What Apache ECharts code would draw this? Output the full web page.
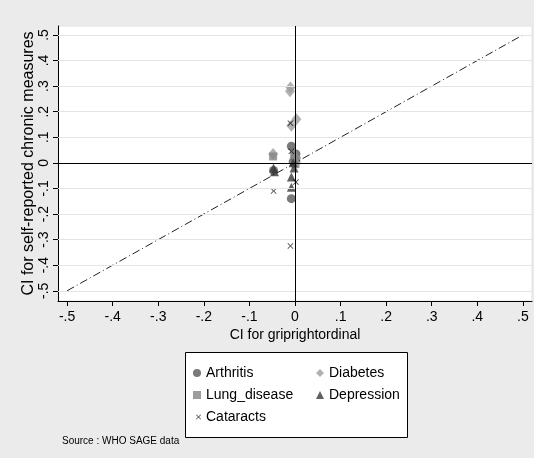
<!DOCTYPE html>
<html>
<head>
<meta charset="utf-8">
<script src="https://cdn.jsdelivr.net/npm/echarts@6/dist/echarts.min.js"></script>
<style>html,body{margin:0;padding:0;background:#ebebeb;}#c{width:534px;height:458px;}</style>
</head>
<body>
<div id="c"></div>
<script>
// ---- data ----
const tickValues = [-0.5, -0.4, -0.3, -0.2, -0.1, 0, 0.1, 0.2, 0.3, 0.4, 0.5];
const arthritis = [[-0.008, 0.065], [0.002, 0.035], [-0.047, -0.03], [-0.008, -0.14], [-0.004, 0.005], [0.0, 0.02]];
const diabetes = [[-0.01, 0.295], [-0.011, 0.28], [0.003, 0.17], [-0.008, 0.145], [-0.048, 0.035], [0.002, 0.02]];
const lungDisease = [[-0.048, 0.025], [0.003, 0.01], [-0.002, 0.03], [0.001, -0.005]];
const depression = [[-0.047, -0.02], [-0.045, -0.035], [-0.008, -0.055], [-0.008, -0.095], [-0.004, 0.0], [-0.002, -0.02]];
const cataracts = [[-0.01, 0.155], [-0.008, 0.045], [0.002, -0.075], [-0.047, -0.11], [-0.01, -0.325]];
const diagonal = [[-0.5, -0.5], [0.5, 0.5]];

const fmt = v => {
  const r = Math.round(v * 10) / 10;
  if (r === 0) return '0';
  return (r < 0 ? '-' : '') + Math.abs(r).toFixed(1).replace(/^0/, '');
};
const font = '"Liberation Sans", Arial, Helvetica, sans-serif';
const xPath = 'path://M0,1L1,0L5,4L9,0L10,1L6,5L10,9L9,10L5,6L1,10L0,9L4,5Z';

const chart = echarts.init(document.getElementById('c'), null, {renderer: 'canvas'});
const legendText = {fontSize: 14, color: '#000', lineHeight: 14, fontFamily: font};
chart.setOption({
  backgroundColor: '#ebebeb',
  animation: false,
  textStyle: {fontFamily: font},
  grid: {left: 58, right: 2, top: 26, bottom: 157, show: true, backgroundColor: '#ffffff', borderColor: '#e2e2e2', borderWidth: 1},
  xAxis: {
    type: 'value', min: -0.52, max: 0.52,
    name: 'CI for griprightordinal', nameLocation: 'middle', nameGap: 27, nameMoveOverlap: false,
    nameTextStyle: {fontSize: 14, color: '#000', fontFamily: font},
    axisLine: {show: true, onZero: false, lineStyle: {color: '#000', width: 1}},
    axisTick: {show: true, length: 5, lineStyle: {color: '#000'}, customValues: tickValues},
    axisLabel: {fontSize: 14, color: '#000', margin: 9, formatter: fmt, customValues: tickValues, fontFamily: font},
    splitLine: {show: false}
  },
  yAxis: {
    type: 'value', min: -0.54, max: 0.535,
    name: 'CI for self-reported chronic measures', nameLocation: 'middle', nameGap: 21, nameRotate: 90, nameMoveOverlap: false,
    nameTextStyle: {fontSize: 16, color: '#000', fontFamily: font},
    axisLine: {show: true, onZero: false, lineStyle: {color: '#000', width: 1}},
    axisTick: {show: true, length: 5, lineStyle: {color: '#000'}, customValues: tickValues},
    axisLabel: {fontSize: 14, color: '#000', margin: 7, rotate: 90, formatter: fmt, customValues: tickValues, fontFamily: font},
    splitLine: {show: false}
  },
  legend: [
    {data: ['Arthritis', 'Lung_disease'], orient: 'vertical', left: 188, top: 361, itemWidth: 8, itemHeight: 8, itemGap: 8,
     textStyle: legendText},
    {data: ['Cataracts'], orient: 'vertical', left: 191, top: 405, itemWidth: 5, itemHeight: 5, itemGap: 8,
     textStyle: legendText},
    {data: ['Diabetes', 'Depression'], orient: 'vertical', left: 311, top: 361, itemWidth: 8, itemHeight: 8, itemGap: 8,
     textStyle: legendText}
  ],
  graphic: [
    {type: 'rect', z: -1, shape: {x: 185.5, y: 352.5, width: 222, height: 85}, style: {fill: '#fff', stroke: '#000', lineWidth: 1}},
    {type: 'text', left: 62, top: 436, style: {text: 'Source : WHO SAGE data', fontSize: 10, fill: '#000', fontFamily: font}}
  ],
  series: [
    {type: 'line', name: 'grid', data: [], silent: true,
     markLine: {silent: true, symbol: 'none', label: {show: false},
       data: tickValues.map(v => ({yAxis: v, lineStyle: {color: '#e4e4e4', width: 1, type: 'solid'}}))}},
    {type: 'line', name: 'diag', data: diagonal, showSymbol: false, silent: true,
     lineStyle: {color: '#222', width: 1, type: [8, 3, 1, 3]}},
    {type: 'line', name: 'zero', data: [], silent: true,
     markLine: {silent: true, symbol: 'none', label: {show: false},
       data: [{xAxis: 0, lineStyle: {color: '#000', width: 1, type: 'solid'}}, {yAxis: 0, lineStyle: {color: '#000', width: 1, type: 'solid'}}]}},
    {type: 'scatter', name: 'Arthritis', data: arthritis, symbol: 'circle', symbolSize: 9, itemStyle: {color: '#595959'}},
    {type: 'scatter', name: 'Diabetes', data: diabetes, symbol: 'diamond', symbolSize: [10, 12], itemStyle: {color: '#9e9e9e'}},
    {type: 'scatter', name: 'Lung_disease', data: lungDisease, symbol: 'rect', symbolSize: 8, itemStyle: {color: '#858585'}},
    {type: 'scatter', name: 'Depression', data: depression, symbol: 'triangle', symbolSize: 9, itemStyle: {color: '#3a3a3a'}},
    {type: 'scatter', name: 'Cataracts', data: cataracts, symbol: xPath, symbolSize: 6, itemStyle: {color: '#111'}}
  ]
});
</script>
</body>
</html>
